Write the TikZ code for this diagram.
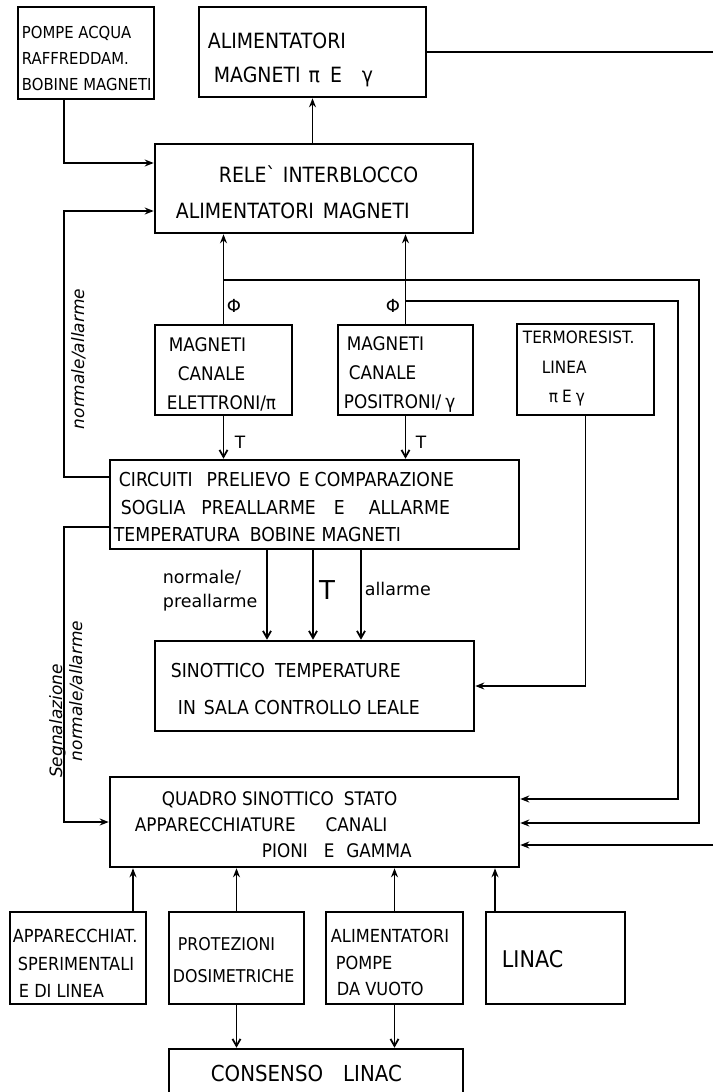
\documentclass[tikz,border=0pt]{standalone}
\usepackage{fontspec}
\setmainfont{DejaVu Sans}
\newfontfamily\capsfont{DejaVu Sans}[FakeStretch=0.9]
\usetikzlibrary{arrows.meta}

\tikzset{every picture/.style={line width=1.8pt}}
\tikzset{
  blk/.style={draw, line width=2.6pt, inner sep=0pt},
  txt/.style={anchor=west, align=left, inner sep=0pt},
  rlbl/.style={rotate=90, anchor=base, inner sep=0pt, font=\itshape\fontsize{17}{20}\selectfont},
  arr/.style={-{Stealth[length=9pt,width=7pt]}},
  arrv/.style={-{Straight Barb[length=7pt,width=8pt]}}
}

\begin{document}
\begin{tikzpicture}[x=1pt,y=1pt,yscale=-1,xscale=1]
\useasboundingbox (0,0) rectangle (713,1092);

% bus positions
\coordinate (lbus) at (64,0);
\coordinate (bus1) at (699,280);
\coordinate (bus2) at (678,301);
\coordinate (edge) at (713,0);

%Blocks
\node[blk, minimum width=136pt, minimum height=92pt] (pompe) at (86,53) {};
\node[blk, minimum width=227pt, minimum height=90pt] (alim) at (312.5,52) {};
\node[blk, minimum width=318pt, minimum height=89pt] (rele) at (314,188.5) {};
\node[blk, minimum width=137pt, minimum height=90pt] (mag1) at (223.5,370) {};
\node[blk, minimum width=135pt, minimum height=90pt] (mag2) at (405.5,370) {};
\node[blk, minimum width=137pt, minimum height=91pt] (termo) at (585.5,369.5) {};
\node[blk, minimum width=409pt, minimum height=89pt] (circ) at (314.5,504.5) {};
\node[blk, minimum width=319pt, minimum height=90pt] (sinot) at (314.5,686) {};
\node[blk, minimum width=409pt, minimum height=90pt] (quadro) at (314.5,822) {};
\node[blk, minimum width=136pt, minimum height=92pt] (app) at (78,958) {};
\node[blk, minimum width=135pt, minimum height=92pt] (prot) at (236.5,958) {};
\node[blk, minimum width=137pt, minimum height=92pt] (pompev) at (394.5,958) {};
\node[blk, minimum width=139pt, minimum height=92pt] (linac) at (555.5,958) {};
\node[blk, minimum width=294pt, minimum height=52pt] (consenso) at (316,1075) {};

% Text Node
\node[txt, font=\capsfont\fontsize{16.5}{26}\selectfont] (tpompe) at (21,58) {POMPE ACQUA\\RAFFREDDAM.\\BOBINE MAGNETI};
% Text Node
\node[txt, font=\capsfont\fontsize{21}{34}\selectfont] (talim) at (207,60) {ALIMENTATORI\\\hspace*{6pt}MAGNETI\hspace{8pt}π\hspace{10pt}E\hspace{20pt}γ};
% Text Node
\node[txt, font=\capsfont\fontsize{21}{36}\selectfont] (trele) at (175,192) {\hspace*{43pt}RELE\textasciigrave\hspace{6pt}INTERBLOCCO\\ALIMENTATORI\hspace{9pt}MAGNETI};
% Text Node
\node[txt, font=\capsfont\fontsize{18.7}{29}\selectfont] (tmag1) at (166,374) {\hspace*{2pt}MAGNETI\\\hspace*{11pt}CANALE\\ELETTRONI/π};
% Text Node
\node[txt, font=\capsfont\fontsize{18.7}{29}\selectfont] (tmag2) at (343,374) {\hspace*{3pt}MAGNETI\\\hspace*{5pt}CANALE\\POSITRONI/\hspace{4pt}γ};
% Text Node
\node[txt, font=\capsfont\fontsize{17}{29.5}\selectfont] (ttermo) at (522,368.5) {TERMORESIST.\\\hspace*{19pt}LINEA\\\hspace*{26pt}π\hspace{4pt}E\hspace{4pt}γ};
% Text Node
\node[txt, font=\capsfont\fontsize{19.2}{27.5}\selectfont] (tcirc) at (113,507.5) {\hspace*{5pt}CIRCUITI\hspace{14pt}PRELIEVO\hspace{8pt}E\hspace{5pt}COMPARAZIONE\\\hspace*{7pt}SOGLIA\hspace{16pt}PREALLARME\hspace{18pt}E\hspace{24pt}ALLARME\\TEMPERATURA\hspace{10pt}BOBINE\hspace{6pt}MAGNETI};
% Text Node
\node[txt, font=\capsfont\fontsize{19.2}{37}\selectfont] (tsinot) at (170,689.5) {SINOTTICO\hspace{10pt}TEMPERATURE\\\hspace*{7pt}IN\hspace{8pt}SALA CONTROLLO LEALE};
% Text Node
\node[txt, font=\capsfont\fontsize{18.7}{26}\selectfont] (tquadro) at (134,825) {\hspace*{27pt}QUADRO SINOTTICO\hspace{10pt}STATO\\APPARECCHIATURE\hspace{30pt}CANALI\\\hspace*{127pt}PIONI\hspace{16pt}E\hspace{12pt}GAMMA};
% Text Node
\node[txt, font=\capsfont\fontsize{18}{27.5}\selectfont] (tapp) at (12,963.5) {APPARECCHIAT.\\\hspace*{5pt}SPERIMENTALI\\\hspace*{6pt}E DI LINEA};
% Text Node
\node[txt, font=\capsfont\fontsize{17.6}{32}\selectfont] (tprot) at (172,960) {\hspace*{5pt}PROTEZIONI\\DOSIMETRICHE};
% Text Node
\node[txt, font=\capsfont\fontsize{18}{26.5}\selectfont] (tpompev) at (330,962.5) {ALIMENTATORI\\\hspace*{5pt}POMPE\\\hspace*{6pt}DA VUOTO};
% Text Node
\node[txt, font=\capsfont\fontsize{23}{26}\selectfont] (tlinac) at (501,959) {LINAC};
% Text Node
\node[txt, font=\capsfont\fontsize{22}{26}\selectfont] (tconsenso) at (210,1073) {CONSENSO\hspace{20pt}LINAC};

%Straight Lines
\draw[arr] (alim.south |- rele.north) -- (alim.south);
\draw[arr] (pompe.south -| lbus) |- (rele.west |- 0,163);
\draw[arr] (circ.west |- 0,477) -| (lbus |- 0,211) -- (rele.west |- 0,211);
\draw[arr] (circ.west |- 0,527) -| (lbus |- quadro.west) -- (quadro.west);
\draw[arr] (mag1.north) -- (mag1.north |- rele.south);
\draw[arr] (mag2.north) -- (mag2.north |- rele.south);
\draw[arr] (mag1.north |- bus1) -| (bus1 |- 0,823) -- (quadro.east |- 0,823);
\draw[arr] (mag2.north |- bus2) -| (bus2 |- 0,799) -- (quadro.east |- 0,799);
\draw (alim.east) -- (alim.east -| edge);
\draw[arr] (edge |- 0,845) -- (quadro.east |- 0,845);
\draw[arrv] (mag1.south) -- (mag1.south |- circ.north);
\draw[arrv] (mag2.south) -- (mag2.south |- circ.north);
\draw[arr] (termo.south) |- (sinot.east);
\foreach \xx in {267,313,361}
  \draw[arrv] (circ.south -| \xx,0) -- (sinot.north -| \xx,0);
\foreach \xx/\nm in {133/app,236.5/prot,394.5/pompev,495/linac}
  \draw[arr] (\nm.north -| \xx,0) -- (quadro.south -| \xx,0);
\foreach \nm in {prot,pompev}
  \draw[arrv] (\nm.south) -- (\nm.south |- consenso.north);

% Text Node
\node[font=\fontsize{18}{20}\selectfont, inner sep=0pt] (phiA) at (234,306) {Φ};
\node[font=\fontsize{18}{20}\selectfont, inner sep=0pt] (phiB) at (393,306) {Φ};
\node[font=\fontsize{17}{20}\selectfont, inner sep=0pt] (tA) at (240,442) {T};
\node[font=\fontsize{17}{20}\selectfont, inner sep=0pt] (tB) at (421,442) {T};
\node[txt, font=\fontsize{17.5}{24}\selectfont] (lnorm) at (162,591) {normale/\\preallarme};
\node[font=\fontsize{26}{28}\selectfont, inner sep=0pt] (tbig) at (327,590) {T};
\node[txt, font=\fontsize{17.5}{24}\selectfont] (lall) at (364,589) {allarme};
\node[rlbl] (lrele) at (84,359) {normale/allarme};
\node[rlbl] (lsegn) at (62,721) {Segnalazione};
\node[rlbl] (lquadro) at (82,691) {normale/allarme};

\end{tikzpicture}
\end{document}
